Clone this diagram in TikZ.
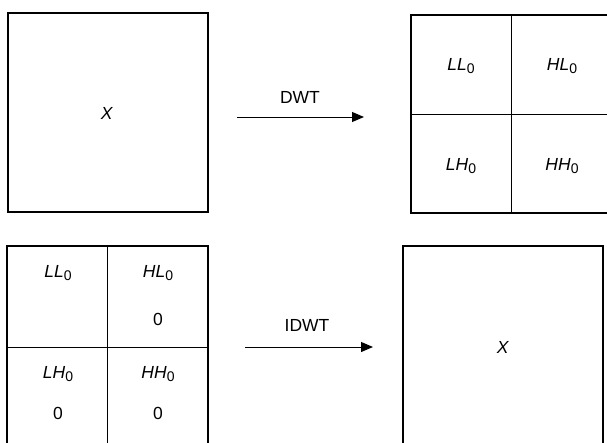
\documentclass[tikz,border=0pt]{standalone}
\usepackage{fontspec}
\setmainfont{Liberation Sans}
\usetikzlibrary{arrows.meta}
\newcommand{\sublab}[2]{\textit{#1}\raisebox{-0.4ex}{\fontsize{14}{14}\selectfont #2}}
\tikzset{
  box/.style={draw, line width=1.1pt, inner sep=0pt},
  cellline/.style={line width=1pt},
  lab/.style={font=\fontsize{17.5}{17.5}\selectfont, inner sep=0pt},
  conn/.style={line width=1pt, -{Triangle[length=12pt,width=10pt]}}
}
\begin{document}
\begin{tikzpicture}[x=1pt,y=-1pt]
\useasboundingbox (0,0) rectangle (607,442);
\clip (0,0) rectangle (607,442);
% top left
\node[box, minimum width=200pt, minimum height=199pt] (a) at (108,112.5) {};
\node[lab] (ax) at (107,113) {\textit{X}};
% top right
\node[box, minimum width=200pt, minimum height=198pt] (b) at (511,114) {};
\draw[cellline] (b.north) -- (b.south);
\draw[cellline] (b.west) -- (b.east);
\node[lab] (b1) at (461,66) {\sublab{LL}{0}};
\node[lab] (b2) at (562,66) {\sublab{HL}{0}};
\node[lab] (b3) at (461,166) {\sublab{LH}{0}};
\node[lab] (b4) at (562,166) {\sublab{HH}{0}};
% bottom left
\node[box, minimum width=201pt, minimum height=202pt] (c) at (107.5,347) {};
\draw[cellline] (c.north) -- (c.south);
\draw[cellline] (c.west) -- (c.east);
\node[lab] (c1) at (58,273) {\sublab{LL}{0}};
\node[lab] (c2) at (158,273) {\sublab{HL}{0}};
\node[lab] (c3) at (158,319) {0};
\node[lab] (c4) at (58,374) {\sublab{LH}{0}};
\node[lab] (c5) at (158,374) {\sublab{HH}{0}};
\node[lab] (c6) at (58,413) {0};
\node[lab] (c7) at (158,413) {0};
% bottom right
\node[box, minimum width=200pt, minimum height=202pt] (d) at (503,347) {};
\node[lab] (dx) at (503,347) {\textit{X}};
% arrows
\coordinate (p1) at (237,117);
\coordinate (q1) at (364,117);
\draw[conn] (p1) -- (q1);
\node[lab] (t1) at (300,97) {DWT};
\coordinate (p2) at (245,347);
\coordinate (q2) at (373,347);
\draw[conn] (p2) -- (q2);
\node[lab] (t2) at (307,325) {IDWT};
\end{tikzpicture}
\end{document}
